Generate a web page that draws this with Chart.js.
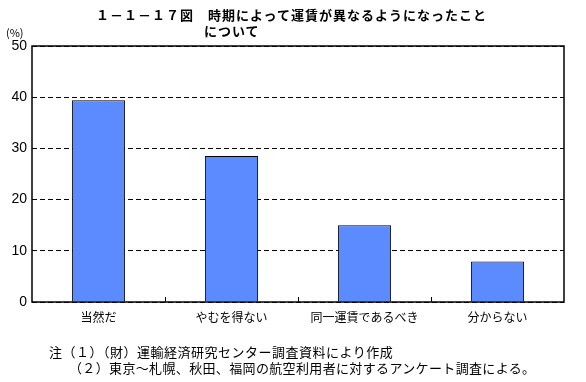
<!DOCTYPE html>
<html><head><meta charset="utf-8">
<script src="https://cdn.jsdelivr.net/npm/chart.js@4/dist/chart.umd.min.js"></script>
<style>
html,body{margin:0;padding:0;background:#fff;}
#wrap{position:relative;width:586px;height:382px;overflow:hidden;font-family:"Noto Sans CJK JP","DejaVu Sans",sans-serif;color:#000;}
canvas{position:absolute;left:0;top:0;}
.t{position:absolute;white-space:nowrap;line-height:1;}
</style></head><body>
<div id="wrap">
<canvas id="c" width="586" height="382"></canvas>
<div class="t" style="left:96px;top:8px;font-size:13px;font-weight:bold;letter-spacing:1px;">１－１－１７図　時期によって運賃が異なるようになったこと</div>
<div class="t" style="left:204px;top:24px;font-size:13px;font-weight:bold;letter-spacing:1px;">について</div>
<div class="t" style="left:6px;top:27px;font-size:11px;">(%)</div>
<div class="t" style="left:49px;top:345px;font-size:13px;letter-spacing:0.5px;">注（１）（財）運輸経済研究センター調査資料により作成</div>
<div class="t" style="left:69px;top:361px;font-size:13px;letter-spacing:0.35px;">（２）東京～札幌、秋田、福岡の航空利用者に対するアンケート調査による。</div>
</div>
<script>
const categories = ["当然だ", "やむを得ない", "同一運賃であるべき", "分からない"];
const values = [39.4, 28.5, 15.0, 7.9];
const yMin = 0, yMax = 50, yStep = 10;

const frame = {
  id: 'frame',
  afterDraw(chart) {
    const {ctx, chartArea: a, scales: {x}} = chart;
    ctx.save();
    ctx.strokeStyle = '#000';
    ctx.lineWidth = 1;
    for (let i = 1; i < categories.length; i++) {
      const px = Math.round((x.getPixelForValue(i - 1) + x.getPixelForValue(i)) / 2) + 0.5;
      ctx.beginPath();
      ctx.moveTo(px, a.bottom);
      ctx.lineTo(px, a.bottom - 5);
      ctx.stroke();
    }
    ctx.lineWidth = 1.5;
    ctx.strokeRect(a.left, a.top, a.right - a.left, a.bottom - a.top);
    ctx.restore();
  }
};

new Chart(document.getElementById('c'), {
  type: 'bar',
  data: {
    labels: categories,
    datasets: [{
      data: values,
      backgroundColor: '#5B8BFF',
      borderColor: '#000',
      borderWidth: 1,
      barPercentage: 0.4,
      categoryPercentage: 1.0
    }]
  },
  options: {
    responsive: false,
    animation: false,
    devicePixelRatio: 1,
    layout: { padding: { top: 46, right: 22, bottom: 0, left: 0 } },
    plugins: { legend: { display: false }, tooltip: { enabled: false }, title: { display: false } },
    scales: {
      x: {
        grid: { display: false, drawTicks: false },
        border: { display: false },
        ticks: { color: '#000', font: { family: '"Noto Sans CJK JP"', size: 12 }, padding: 8, maxRotation: 0 },
        afterFit(s) { s.height = 80; }
      },
      y: {
        min: yMin, max: yMax,
        grid: { color: '#000', lineWidth: 1, drawTicks: false },
        border: { display: false, dash: [5, 3] },
        ticks: { stepSize: yStep, color: '#000', font: { family: '"Liberation Sans"', size: 14 }, padding: 5 },
        afterFit(s) { s.width = 32; }
      }
    }
  },
  plugins: [frame]
});
</script>
</body></html>
